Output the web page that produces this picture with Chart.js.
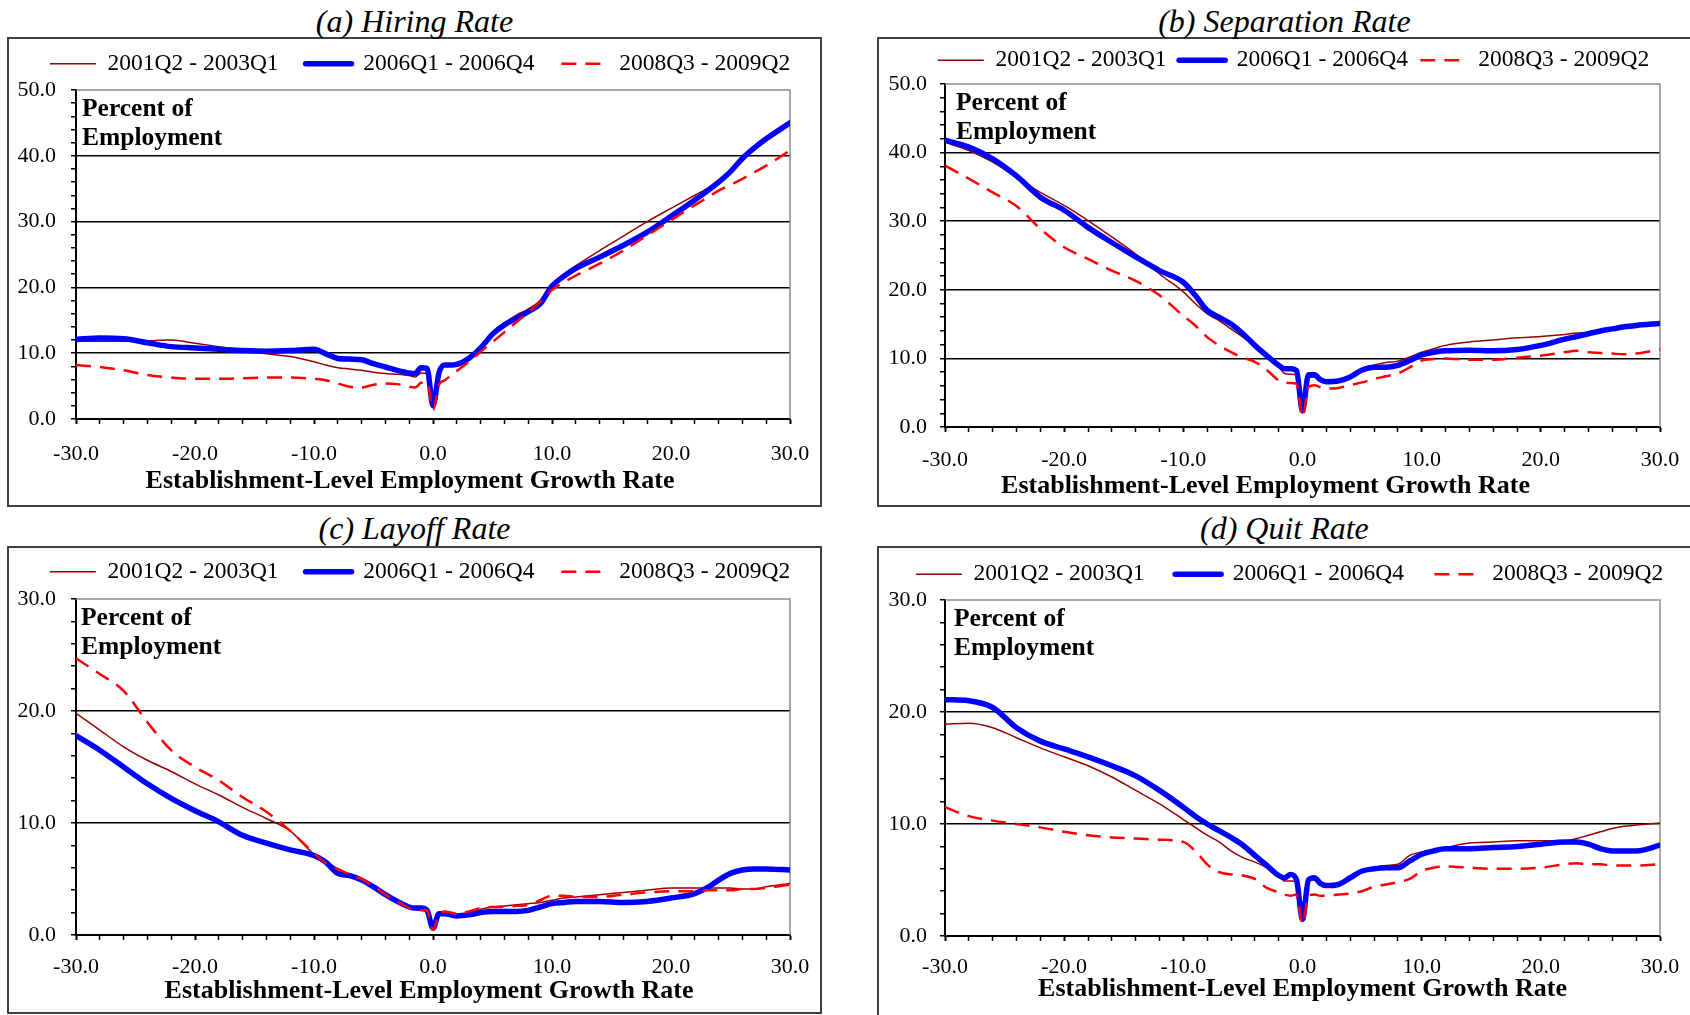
<!DOCTYPE html>
<html>
<head>
<meta charset="utf-8">
<script src="https://cdn.jsdelivr.net/npm/chart.js@4.4.1/dist/chart.umd.min.js"></script>
<style>
html,body{margin:0;padding:0;background:#fff;}
body{width:1690px;height:1015px;overflow:hidden;position:relative;font-family:'Liberation Serif','Times New Roman',serif;}
.ttl{position:absolute;width:600px;text-align:center;font-style:italic;font-size:32px;line-height:36px;color:#000;white-space:nowrap;}
.box{position:absolute;border:2px solid #404040;box-sizing:border-box;}
.cv{position:absolute;}
.cv canvas{display:block;}
</style>
</head>
<body>
<script>
// ---------------- DATA ----------------
const growthRate = [-30,-28,-26,-24,-22,-20,-18,-16,-14,-12,-10,-9,-8,-7,-6,-5,-4,-3,-2,-1.5,-1,-0.5,0,0.5,1,1.5,2,3,4,5,6,7,8,9,10,11,12,14,16,18,20,22,23,24,25,26,27,28,30];

const seriesLabels = ['2001Q2 - 2003Q1', '2006Q1 - 2006Q4', '2008Q3 - 2009Q2'];
const panelTitles = ['(a) Hiring Rate', '(b) Separation Rate', '(c) Layoff Rate', '(d) Quit Rate'];
const yMaxValues = [50, 50, 30, 30];
const axisTitle = 'Establishment-Level Employment Growth Rate';
const noteLines = ['Percent of', 'Employment'];

// (a) Hiring rate
const hire2001 = [11.8,11.8,11.8,11.9,12.0,11.5,11.0,10.5,9.9,9.5, 8.7,8.2,7.8,7.6,7.4,7.1,6.9,6.8,6.6,6.4, 7.0,6.9,2.0,6.8,8.0,8.1,8.0,9.2,10.9,13.0, 14.6,15.8,16.7,18.0,20.4,22.0,23.3,25.6,27.8,30.0, 32.0,34.0,35.0,36.2,37.5,39.3,41.0,42.4,44.8];
const hire2006 = [12.1,12.3,12.2,11.6,11.0,10.8,10.6,10.4,10.3,10.4, 10.6,9.9,9.2,9.1,9.0,8.4,7.9,7.4,7.0,6.9, 7.8,7.7,2.0,7.0,8.2,8.2,8.3,9.2,10.8,12.9, 14.3,15.3,16.3,17.5,20.2,21.7,22.9,24.6,26.4,28.4, 30.8,33.3,34.6,36.0,37.6,39.6,41.2,42.6,45.0];
const hire2008 = [8.2,7.9,7.4,6.7,6.3,6.1,6.1,6.2,6.3,6.3, 6.1,5.9,5.4,4.9,4.8,5.2,5.4,5.3,4.9,4.8, 5.5,5.6,1.4,5.2,5.9,6.6,7.3,8.7,10.2,11.7, 13.2,14.7,16.2,17.8,19.6,20.8,21.8,23.6,25.6,27.9, 30.2,32.5,33.6,34.7,35.6,36.5,37.5,38.5,40.8];

// (b) Separation rate
const sep2001 = [41.5,40.3,38.6,36.4,34.2,32.3,30.1,27.7,25.2,22.3, 19.7,18.0,16.5,15.5,14.3,13.1,11.7,10.2,8.7,7.8, 7.7,7.6,2.0,7.3,7.3,6.7,6.5,6.6,7.2,8.2, 9.0,9.4,9.6,10.2,10.9,11.4,11.9,12.4,12.7,13.0, 13.2,13.5,13.7,13.8,14.0,14.3,14.6,14.8,15.1];
const sep2006 = [41.8,40.8,39.1,36.6,33.5,31.6,29.1,26.9,24.8,22.8, 21.1,19.2,17.0,16.0,15.0,13.6,11.9,10.4,9.0,8.5, 8.5,8.2,2.4,7.6,7.6,6.9,6.6,6.7,7.3,8.3, 8.7,8.7,9.0,9.7,10.5,10.9,11.1,11.2,11.1,11.3, 11.9,12.8,13.2,13.6,14.0,14.3,14.6,14.8,15.1];
const sep2008 = [38.1,36.2,34.2,32.2,28.9,26.2,24.5,22.8,21.3,19.2, 16.2,14.8,13.1,11.9,10.9,10.1,9.5,8.3,6.8,6.5, 6.4,6.3,1.5,5.8,6.1,5.8,5.6,5.7,6.1,6.5, 7.0,7.4,7.8,8.7,9.7,9.9,10.0,9.8,9.8,10.1, 10.4,10.9,11.1,10.9,10.8,10.7,10.6,10.7,11.3];

// (c) Layoff rate
const lay2001 = [19.8,18.3,16.8,15.6,14.6,13.5,12.5,11.4,10.4,9.3, 7.2,6.6,5.9,5.4,5.0,4.4,3.6,3.0,2.4,2.3, 2.2,2.1,0.6,1.8,1.9,1.8,1.8,2.0,2.3,2.5, 2.6,2.7,2.8,2.9,3.1,3.3,3.4,3.6,3.8,4.0, 4.2,4.2,4.2,4.2,4.2,4.1,4.1,4.3,4.6];
const lay2006 = [17.8,16.5,15.0,13.5,12.2,11.1,10.1,8.9,8.2,7.6, 7.1,6.5,5.5,5.3,4.9,4.3,3.6,3.0,2.5,2.4, 2.4,2.2,0.6,1.9,1.9,1.8,1.7,1.8,2.0,2.1, 2.1,2.1,2.2,2.5,2.8,2.9,3.0,3.0,2.9,3.0, 3.3,3.7,4.2,4.9,5.5,5.8,5.9,5.9,5.8];
const lay2008 = [24.7,23.3,21.8,19.0,16.5,15.0,13.8,12.3,11.0,9.3, 7.3,6.4,5.9,5.4,5.0,4.4,3.6,3.0,2.4,2.3, 2.2,2.2,0.45,1.8,2.1,2.0,1.9,2.1,2.4,2.5, 2.5,2.6,2.7,3.1,3.5,3.5,3.4,3.4,3.6,3.8, 3.9,3.9,4.0,4.0,4.0,4.1,4.1,4.2,4.5];

// (d) Quit rate
const quit2001 = [18.9,19.0,18.6,17.7,16.8,16.0,15.2,14.2,13.0,11.8, 10.4,9.7,9.0,8.4,7.6,7.0,6.6,6.1,5.4,4.9, 4.9,4.8,1.4,5.0,5.0,4.6,4.4,4.6,5.1,5.7, 6.1,6.3,6.4,7.2,7.5,7.7,7.9,8.3,8.4,8.5, 8.5,8.5,8.7,9.0,9.3,9.6,9.8,9.9,10.1];
const quit2006 = [21.1,21.0,20.4,18.6,17.4,16.7,16.0,15.2,14.3,13.0, 11.5,10.7,10.0,9.4,8.8,8.1,7.2,6.3,5.4,5.2, 5.5,5.0,1.5,5.0,5.2,4.7,4.5,4.6,5.2,5.8, 6.0,6.1,6.1,6.7,7.3,7.6,7.8,7.8,7.9,8.0, 8.2,8.4,8.4,8.2,7.8,7.6,7.6,7.6,8.1];
const quit2008 = [11.5,10.7,10.3,10.0,9.7,9.3,9.0,8.8,8.7,8.6, 8.4,7.6,6.4,5.7,5.5,5.4,5.1,4.3,3.9,3.7, 3.6,3.7,1.1,3.6,3.7,3.6,3.6,3.7,3.8,4.0, 4.4,4.6,4.8,5.1,5.8,6.1,6.2,6.1,6.0,6.0, 6.1,6.4,6.5,6.4,6.4,6.3,6.3,6.3,6.4];

// ---------------- LAYOUT / STYLE ----------------
const panelData = [
  [hire2001, hire2006, hire2008],
  [sep2001, sep2006, sep2008],
  [lay2001, lay2006, lay2008],
  [quit2001, quit2006, quit2008]
];
const panelLayout = [
  {canvas:[9,25,822,480],  box:[7,37,815,470],   title:[414.5,20.5], yW:67, rW:41, legPad:27,   legExtra:4.5, xH:86, xTickPad:16.8, xTitlePad:8.6,  xTitleShift:-23, yTickPad:15, noteDx:6},
  {canvas:[879,36,829,469],box:[877,37,830,470], title:[1284.4,20.5],yW:66, rW:48, legPad:12.5, legExtra:2,   xH:78, xTickPad:14.8, xTitlePad:3.6,  xTitleShift:-37, yTickPad:13, noteDx:11},
  {canvas:[9,533,822,482], box:[7,546,815,468],  title:[414.5,528],  yW:67, rW:41, legPad:27,   legExtra:5.5, xH:80, xTickPad:13.8, xTitlePad:8.1,  xTitleShift:-4,  yTickPad:15, noteDx:5},
  {canvas:[879,532,821,483],box:[877,546,830,500],title:[1284.4,528], yW:66, rW:40, legPad:30.5, legExtra:4,   xH:79, xTickPad:12.8, xTitlePad:10.1, xTitleShift:0,   yTickPad:13, noteDx:9}
];
const seriesStyle = [
  {borderColor:'#990000', borderWidth:1.5, order:2},
  {borderColor:'#0000ff', borderWidth:5.5, borderCapStyle:'round', borderJoinStyle:'round', order:1},
  {borderColor:'#ff0000', borderWidth:2.5, borderDash:[15,9], order:0}
];
const FAMILY = "'Liberation Serif','Times New Roman',serif";
Chart.defaults.font.family = FAMILY;
Chart.defaults.color = '#000';

function framePlugin() {
  return {id:'frame', beforeDatasetsDraw(chart){
    const {ctx, chartArea:a} = chart;
    ctx.save(); ctx.strokeStyle = '#8c8c8c'; ctx.lineWidth = 1.5;
    ctx.beginPath(); ctx.moveTo(a.left, a.top); ctx.lineTo(a.right, a.top); ctx.lineTo(a.right, a.bottom); ctx.stroke();
    ctx.restore();
  }};
}
function notePlugin(dx) {
  return {id:'note', afterDraw(chart){
    const {ctx, chartArea:a} = chart;
    ctx.save(); ctx.fillStyle = '#000'; ctx.font = "bold 25.5px " + FAMILY;
    ctx.textAlign = 'left'; ctx.textBaseline = 'alphabetic';
    ctx.fillText(noteLines[0], a.left + dx, a.top + 26);
    ctx.fillText(noteLines[1], a.left + dx, a.top + 54.5);
    ctx.restore();
  }};
}
function legendExtraPlugin(extra) {
  return {id:'legendExtra', beforeInit(chart){
    const lg = chart.legend; if (!lg) return;
    const orig = lg.fit;
    lg.fit = function(){ orig.call(this); this.height += extra; };
  }};
}
function titleShiftPlugin(dx) {
  return {id:'titleShift', beforeDraw(chart){
    const s = chart.scales.x;
    if (s && !s._shifted) {
      const orig = s.drawTitle;
      s.drawTitle = function(){ this.ctx.save(); this.ctx.translate(dx, 0); orig.apply(this, arguments); this.ctx.restore(); };
      s._shifted = true;
    }
  }};
}
function legendLabels(chart) {
  const items = Chart.defaults.plugins.legend.labels.generateLabels(chart);
  items.forEach(it => {
    const ds = chart.data.datasets[it.datasetIndex];
    it.lineDash = ds.borderDash || [];
    it.lineWidth = ds.borderWidth;
    it.lineCap = ds.borderCapStyle || 'butt';
    it.strokeStyle = ds.borderColor;
  });
  return items;
}

panelTitles.forEach((t, i) => {
  const L = panelLayout[i];
  const box = document.createElement('div');
  box.className = 'box';
  Object.assign(box.style, {left:L.box[0]+'px', top:L.box[1]+'px', width:L.box[2]+'px', height:L.box[3]+'px'});
  document.body.appendChild(box);
  const td = document.createElement('div');
  td.className = 'ttl'; td.textContent = t;
  Object.assign(td.style, {left:(L.title[0]-300)+'px', top:(L.title[1]-18)+'px'});
  document.body.appendChild(td);
});

panelTitles.forEach((t, i) => {
  const L = panelLayout[i];
  const yMax = yMaxValues[i];
  const wrap = document.createElement('div');
  wrap.className = 'cv';
  Object.assign(wrap.style, {left:L.canvas[0]+'px', top:L.canvas[1]+'px', width:L.canvas[2]+'px', height:L.canvas[3]+'px'});
  const cv = document.createElement('canvas');
  cv.width = L.canvas[2]; cv.height = L.canvas[3];
  cv.style.width = L.canvas[2]+'px'; cv.style.height = L.canvas[3]+'px';
  wrap.appendChild(cv); document.body.appendChild(wrap);

  const datasets = panelData[i].map((arr, k) => Object.assign({
    label: seriesLabels[k],
    data: growthRate.map((x, j) => ({x: x, y: arr[j]})),
    fill: false, pointRadius: 0, pointHoverRadius: 0,
    cubicInterpolationMode: 'monotone'
  }, seriesStyle[k]));

  new Chart(cv, {
    type: 'line',
    data: {datasets},
    options: {
      responsive: false, animation: false,
      layout: {padding: 0},
      plugins: {
        legend: {position:'top', align:'center',
          labels:{usePointStyle:true, pointStyle:'line', pointStyleWidth:46, padding:L.legPad, color:'#000',
            font:{size:23.5, family:FAMILY}, sort:(a,b)=>a.datasetIndex-b.datasetIndex,
            generateLabels: legendLabels}},
        tooltip: {enabled:false},
        title: {display:false}
      },
      scales: {
        x: {type:'linear', position:'bottom', min:-30, max:30,
          afterFit: s => { s.height = L.xH; },
          ticks:{stepSize:2, autoSkip:false, maxRotation:0, minRotation:0, padding:L.xTickPad, color:'#000',
            font:{size:22, family:FAMILY}, callback: v => (Math.abs(v % 10) < 1e-9 ? Number(v).toFixed(1) : '')},
          grid:{drawOnChartArea:false, drawTicks:true, tickLength:5, tickColor:'#000',
            tickWidth: c => (c.tick && Math.abs(c.tick.value % 10) < 1e-9 ? 2 : 1.5)},
          border:{display:true, color:'#000', width:2},
          title:{display:true, text:axisTitle, color:'#000', font:{size:26, weight:'bold', family:FAMILY},
            padding:{top:0, bottom:L.xTitlePad}}
        },
        y: {type:'linear', position:'left', min:0, max:yMax,
          afterFit: s => { s.width = L.yW; },
          ticks:{stepSize:2, autoSkip:false, padding:L.yTickPad, color:'#000', font:{size:22, family:FAMILY},
            callback: v => (Math.abs(v % 10) < 1e-9 ? Number(v).toFixed(1) : '')},
          grid:{drawTicks:true, tickLength:5, tickColor:'#000', tickWidth:1.5, lineWidth:1.5,
            color: c => (c.tick && Math.abs(c.tick.value % 10) < 1e-9 && c.tick.value > 0 && c.tick.value < yMax) ? '#000' : 'rgba(0,0,0,0)'},
          border:{display:true, color:'#000', width:2}
        },
        y2: {type:'linear', position:'right', display:true,
          afterFit: s => { s.width = L.rW; },
          ticks:{display:false}, grid:{display:false}, border:{display:false}}
      }
    },
    plugins: [legendExtraPlugin(L.legExtra), framePlugin(), notePlugin(L.noteDx), titleShiftPlugin(L.xTitleShift)]
  });
});
</script>
</body>
</html>
